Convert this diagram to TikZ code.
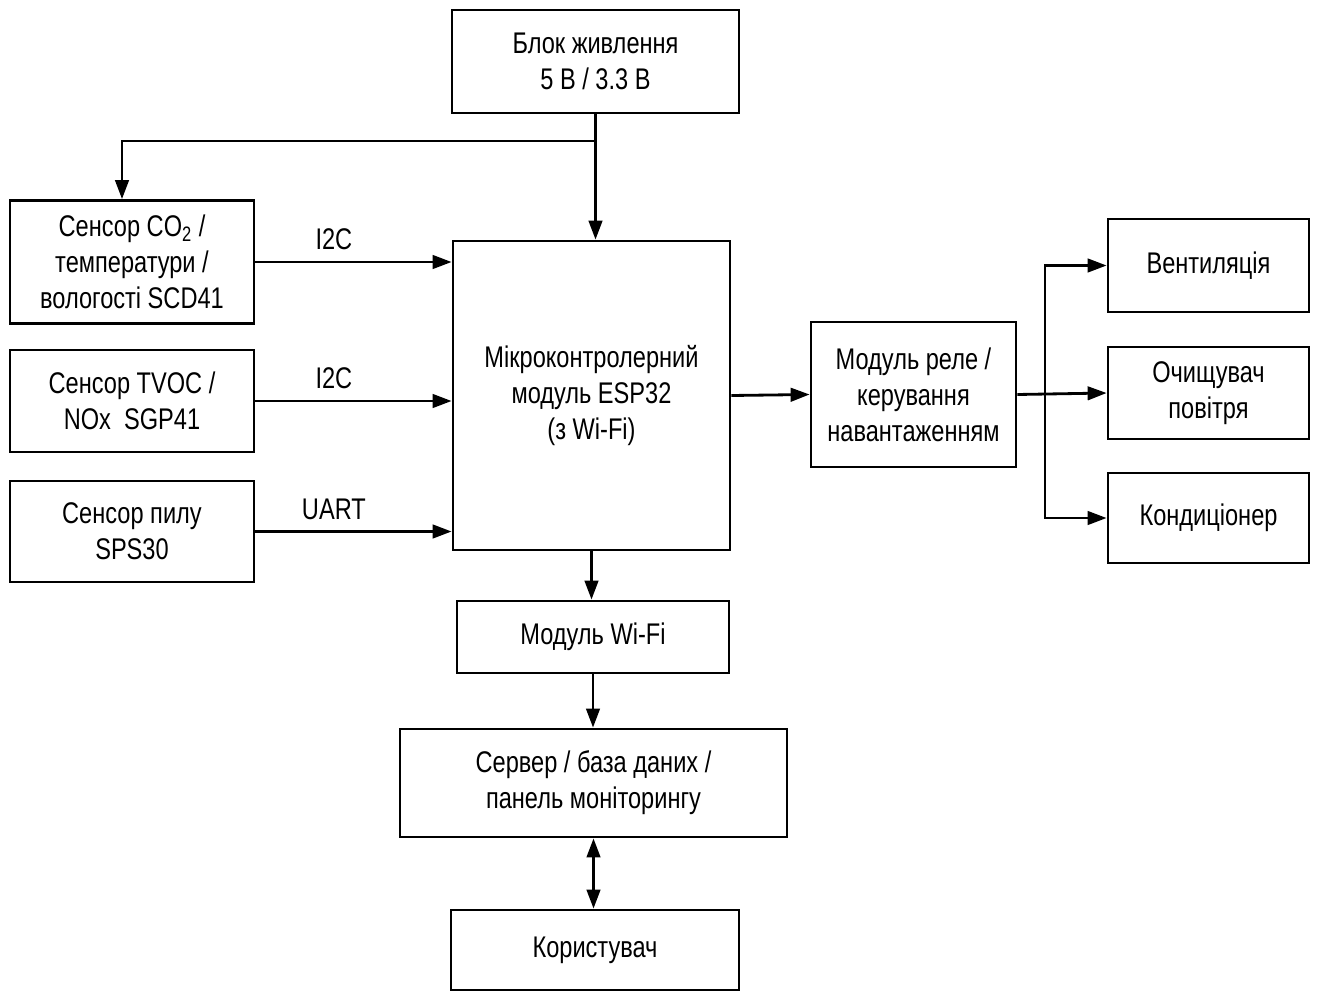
\documentclass[tikz,border=0pt]{standalone}
\usepackage{fontspec}
\setmainfont{Liberation Sans}[FakeStretch=0.79]
\usetikzlibrary{arrows.meta}

\begin{document}
\begin{tikzpicture}[x=0.02cm,y=-0.02cm,
  blk/.style={draw,rectangle,line width=1.6pt,align=center,inner sep=2pt,
    font=\fontsize{17}{20.5}\selectfont},
  tip/.tip={Triangle[length=0.38cm,width=0.27cm]},
  link/.style={line width=1.6pt,-tip},
  bus/.style={above,inner sep=6pt,font=\fontsize{17}{20}\selectfont}]
\useasboundingbox (0,0) rectangle (1317,993);
\node [blk,minimum width=5.74cm,minimum height=2.06cm] (pwr) at(595.5,61.5){Блок живлення\\5 В / 3.3 В};
\node [blk,minimum width=4.88cm,minimum height=2.46cm] (co2) at(132,262){Сенсор CO\textsubscript{2} /\\температури /\\вологості SCD41};
\node [blk,minimum width=4.88cm,minimum height=2.04cm] (tvoc) at(132,401){Сенсор TVOC /\\NOx\ \ SGP41};
\node [blk,minimum width=4.88cm,minimum height=2.02cm] (dust) at(132,531.5){Сенсор пилу\\SPS30};
\node [blk,minimum width=5.54cm,minimum height=6.18cm] (mcu) at(591.5,395.5){Мікроконтролерний\\модуль ESP32\\(з Wi-Fi)};
\node [blk,minimum width=4.1cm,minimum height=2.9cm] (relay) at(913.5,394.5){Модуль реле /\\керування\\навантаженням};
\node [blk,minimum width=4.02cm,minimum height=1.86cm] (vent) at(1208.5,265.5){Вентиляція};
\node [blk,minimum width=4.02cm,minimum height=1.84cm] (clean) at(1208.5,393){Очищувач\\повітря};
\node [blk,minimum width=4.02cm,minimum height=1.8cm] (cond) at(1208.5,518){Кондиціонер};
\node [blk,minimum width=5.44cm,minimum height=1.44cm] (wifi) at(593,637){Модуль Wi-Fi};
\node [blk,minimum width=7.74cm,minimum height=2.16cm] (srv) at(593.5,783){Сервер / база даних /\\панель моніторингу};
\node [blk,minimum width=5.76cm,minimum height=1.6cm] (user) at(595,950){Користувач};
\coordinate (jn) at(595.5,141);
\coordinate (br) at(1045,394.5);

\draw[link](pwr.south) -- (pwr.south |- mcu.north);
\draw[link](jn) -| ([xshift=-0.2cm]co2.north);
\draw[link](co2.east) -- (co2.east -| mcu.west) node[bus,pos=0.4]{I2C};
\draw[link](tvoc.east) -- (tvoc.east -| mcu.west) node[bus,pos=0.4]{I2C};
\draw[link](dust.east) -- (dust.east -| mcu.west) node[bus,pos=0.4]{UART};
\draw[link](mcu.east) -- (relay.west);
\draw[link](relay.east) -- (clean.west);
\draw[link](br) |- (vent.west);
\draw[link](br) |- (cond.west);
\draw[link](mcu.south) -- (mcu.south |- wifi.north);
\draw[link](wifi.south) -- (wifi.south |- srv.north);
\draw[link,tip-tip](srv.south) -- (srv.south |- user.north);

\end{tikzpicture}
\end{document}
